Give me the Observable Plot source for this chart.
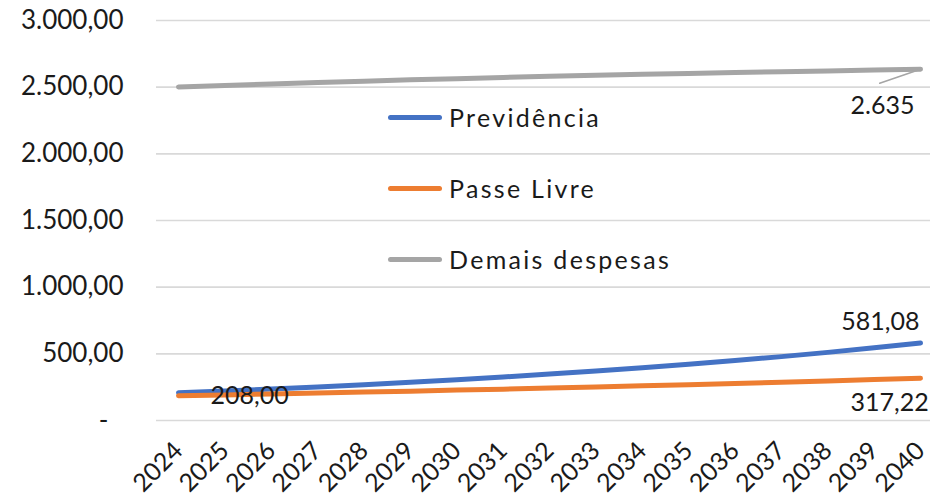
<!DOCTYPE html>
<html>
<head>
<meta charset="utf-8">
<script src="https://cdn.jsdelivr.net/npm/d3@7"></script>
<script src="https://cdn.jsdelivr.net/npm/@observablehq/plot@0.6"></script>
<style>
  html, body { margin: 0; padding: 0; background: #fff; }
  #wrap { position: relative; width: 930px; height: 496px; overflow: hidden; font-family: Lato, "DejaVu Sans", sans-serif; }
  .leg { position: absolute; left: 388px; display: flex; align-items: center; font-size: 25px; letter-spacing: 2.3px; color: #1a1a1a; height: 30px; }
  .leg .sw { width: 54px; height: 5px; border-radius: 3px; margin-right: 7px; }
</style>
</head>
<body>
<div id="wrap"></div>
<script>
const years = [2024, 2025, 2026, 2027, 2028, 2029, 2030, 2031, 2032, 2033, 2034, 2035, 2036, 2037, 2038, 2039, 2040];
const previdencia = [208, 222, 236, 252, 269, 287, 306, 326, 348, 371, 395, 422, 450, 479, 511, 545, 581.08];
const passeLivre  = [186, 192, 199, 206, 213, 220, 228, 235, 243, 252, 260, 269, 278, 287, 297, 307, 317.22];
const demais      = [2502, 2513, 2524, 2535, 2545, 2555, 2564, 2573, 2581, 2589, 2596, 2603, 2610, 2616, 2622, 2629, 2635];
const seriesNames = ["Previdência", "Passe Livre", "Demais despesas"];
const seriesColors = ["#4472C4", "#ED7D31", "#A5A5A5"];
const yTicks = [0, 500, 1000, 1500, 2000, 2500, 3000];
const labelTexts = ["208,00", "581,08", "317,22", "2.635"];

const seriesValues = [previdencia, passeLivre, demais];
const data = [];
seriesNames.forEach((s, i) => years.forEach((yr, j) => data.push({series: s, year: yr, value: seriesValues[i][j]})));

const ptFormat = d => d === 0 ? "-\u2007" : d3.format(",.2f")(d).replace(/,/g, "#").replace(/\./g, ",").replace(/#/g, ".");

const last = years.length - 1;
const lblPrev0 = [{year: years[0], value: previdencia[0], text: labelTexts[0]}];
const lblPrevN = [{year: years[last], value: previdencia[last], text: labelTexts[1]}];
const lblPasseN = [{year: years[last], value: passeLivre[last], text: labelTexts[2]}];
const lblDemN = [{year: years[last], value: demais[last], text: labelTexts[3]}];

const chart = Plot.plot({
  width: 930,
  height: 496,
  marginLeft: 178,
  marginRight: 10,
  marginTop: 20,
  marginBottom: 76,
  style: {fontFamily: "Lato, 'DejaVu Sans', sans-serif", fontSize: "25px", color: "#1a1a1a", background: "#fff", overflow: "visible"},
  x: {type: "linear", domain: [years[0], years[last]]},
  y: {domain: [0, 3000]},
  color: {domain: seriesNames, range: seriesColors},
  marks: [
    Plot.ruleY(yTicks, {stroke: "#d9d9d9", strokeWidth: 1.6, insetLeft: -22, insetRight: -30}),
    Plot.axisY({ticks: yTicks, tickSize: 0, tickPadding: 55, tickFormat: ptFormat, fontSize: 26, label: null, style: {letterSpacing: "0.8px"}}),
    Plot.axisX({ticks: years, tickSize: 0, tickPadding: 26, tickRotate: -45, tickFormat: d => String(d), fontSize: 25, label: null}),
    Plot.line(data, {x: "year", y: "value", z: "series", stroke: "series", strokeWidth: 5, strokeLinecap: "round", strokeLinejoin: "round"}),
    Plot.arrow(lblDemN, {x1: "year", y1: "value", x2: d => d.year - 0.88, y2: d => d.value - 105, stroke: "#A5A5A5", strokeWidth: 1.5, headLength: 0}),
    Plot.text(lblDemN, {x: "year", y: "value", text: "text", dx: -38, dy: 37, textAnchor: "middle", fontSize: 25}),
    Plot.text(lblPrevN, {x: "year", y: "value", text: "text", dx: -1, dy: -21, textAnchor: "end", fontSize: 25}),
    Plot.text(lblPasseN, {x: "year", y: "value", text: "text", dx: -70, dy: 25, textAnchor: "start", fontSize: 25}),
    Plot.text(lblPrev0, {x: "year", y: "value", text: "text", dx: 32, dy: 3, textAnchor: "start", fontSize: 25})
  ]
});

const wrap = document.getElementById("wrap");
wrap.appendChild(chart);
const legTops = [102, 173, 244];
seriesNames.forEach((s, i) => {
  const d = document.createElement("div");
  d.className = "leg";
  d.style.top = legTops[i] + "px";
  const sw = document.createElement("div");
  sw.className = "sw";
  sw.style.background = seriesColors[i];
  const t = document.createElement("span");
  t.textContent = s;
  d.appendChild(sw);
  d.appendChild(t);
  wrap.appendChild(d);
});
</script>
</body>
</html>
